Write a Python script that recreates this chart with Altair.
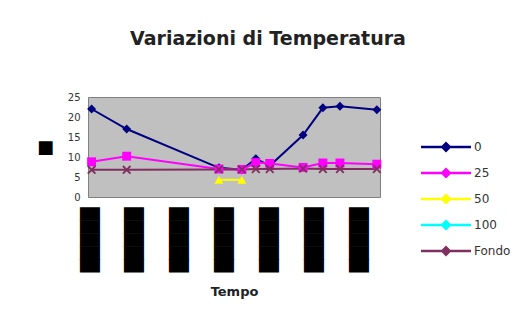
import altair as alt
import pandas as pd

# Sampling times (hours from the first tick) and temperatures per depth series
times = [0.08, 0.86, 2.91, 3.42, 3.73, 4.04, 4.78, 5.22, 5.60, 6.42]
t_0 = [22.0, 17.0, 7.3, 6.8, 9.6, 7.8, 15.5, 22.3, 22.7, 21.8]
t_25 = [8.8, 10.2, 7.0, 6.9, 8.6, 8.4, 7.4, 8.5, 8.5, 8.2]
t_50 = [None, None, 4.3, 4.3, None, None, None, None, None, None]
t_100 = [None] * 10
t_fondo = [6.8, 6.8, 6.9, 6.9, 7.0, 7.0, 7.1, 7.0, 7.0, 7.0]

series_names = ["0", "25", "50", "100", "Fondo"]
series_values = [t_0, t_25, t_50, t_100, t_fondo]
series_colors = ["#000080", "#FF00FF", "#FFFF00", "#00FFFF", "#803060"]

x_tick_values = [0, 1, 2, 3, 4, 5, 6]
x_tick_labels = ["█" * 5] * 7
y_tick_values = [0, 5, 10, 15, 20, 25]

rows = []
for name, vals in zip(series_names, series_values):
    for t, v in zip(times, vals):
        rows.append({"Tempo": t, "Temperatura": v, "Serie": name})
df = pd.DataFrame(rows)

x_cross = "M-1,-0.7L-0.7,-1L0,-0.3L0.7,-1L1,-0.7L0.3,0L1,0.7L0.7,1L0,0.3L-0.7,1L-1,0.7L-0.3,0Z"
shapes = ["diamond", "square", "triangle-up", x_cross, x_cross]
# legend swatch: a short line segment with a marker on it
legend_symbol = "M-2.5,-0.12H2.5V0.12H-2.5ZM-0.55,0L0,-0.55L0.55,0L0,0.55Z"

# the stroke/shape scales list the series in reverse order so that their
# (hidden) legends stay separate from the colour legend
rev_names = series_names[::-1]

label_expr = "[" + ",".join(f"'{s}'" for s in x_tick_labels) + "][datum.value]"

x_enc = alt.X(
    "Tempo:Q",
    scale=alt.Scale(domain=[0, 6.49], nice=False, zero=False),
    axis=alt.Axis(
        values=x_tick_values,
        labelExpr=label_expr,
        labelAngle=90,
        labelFont="DejaVu Sans",
        labelFontSize=16.86,
        labelColor="black",
        labelPadding=10,
        labelBound=False,
        labelFlush=False,
        labelOverlap=False,
        ticks=False,
        domain=False,
        grid=False,
        title="Tempo",
        titleFont="DejaVu Sans",
        titleFontSize=13,
        titleFontWeight="bold",
        titleColor="#222",
        titlePadding=14,
    ),
)
y_enc = alt.Y(
    "Temperatura:Q",
    scale=alt.Scale(domain=[0, 25], nice=False),
    axis=alt.Axis(
        values=y_tick_values,
        labelFont="DejaVu Sans",
        labelFontSize=10,
        labelColor="#333",
        labelPadding=8,
        ticks=False,
        domain=False,
        grid=False,
        title="■",
        titleAngle=0,
        titleFont="DejaVu Sans",
        titleFontSize=18,
        titleFontWeight="normal",
        titleColor="black",
        titleX=-43,
        titleY=50,
        titleAlign="center",
        titleBaseline="middle",
    ),
)

lines = alt.Chart(df).mark_line(strokeWidth=2).encode(
    x=x_enc,
    y=y_enc,
    stroke=alt.Stroke(
        "Serie:N",
        scale=alt.Scale(domain=rev_names, range=series_colors[::-1]),
        legend=None,
    ),
    detail="Serie:N",
)

points = alt.Chart(df).mark_point(filled=True, size=80, opacity=1).encode(
    x=x_enc,
    y=y_enc,
    color=alt.Color(
        "Serie:N",
        scale=alt.Scale(domain=series_names, range=series_colors),
        legend=alt.Legend(
            title=None,
            orient="none",
            legendX=348,
            legendY=40,
            symbolType=legend_symbol,
            symbolSize=400,
            symbolStrokeWidth=0,
            symbolOpacity=1,
            labelOffset=18,
            labelFont="DejaVu Sans",
            labelFontSize=12,
            labelColor="#333",
            rowPadding=6,
            padding=0,
            symbolLimit=0,
        ),
    ),
    shape=alt.Shape(
        "Serie:N",
        scale=alt.Scale(domain=rev_names, range=shapes[::-1]),
        legend=None,
    ),
)

chart = (
    alt.layer(lines, points)
    .properties(
        width=292,
        height=100,
        autosize=alt.AutoSizeParams(type="none"),
        padding={"left": 88, "top": 97, "right": 146, "bottom": 134},
        background="white",
        title=alt.TitleParams(
            "Variazioni di Temperatura",
            font="DejaVu Sans",
            fontSize=19,
            fontWeight="bold",
            color="#222",
            anchor="middle",
            dx=34,
            baseline="alphabetic",
            offset=28,
        ),
    )
    .configure_view(fill="#C0C0C0", stroke="#808080", strokeWidth=1)
)

# spread the legend rows a little further apart
spec = chart.to_dict()
spec["layer"][1]["encoding"]["color"]["legend"]["rowPadding"] = 10
chart = alt.Chart.from_dict(spec) if False else alt.LayerChart.from_dict(spec)

chart.save("out.html", embed_options={"renderer": "svg", "actions": False})
